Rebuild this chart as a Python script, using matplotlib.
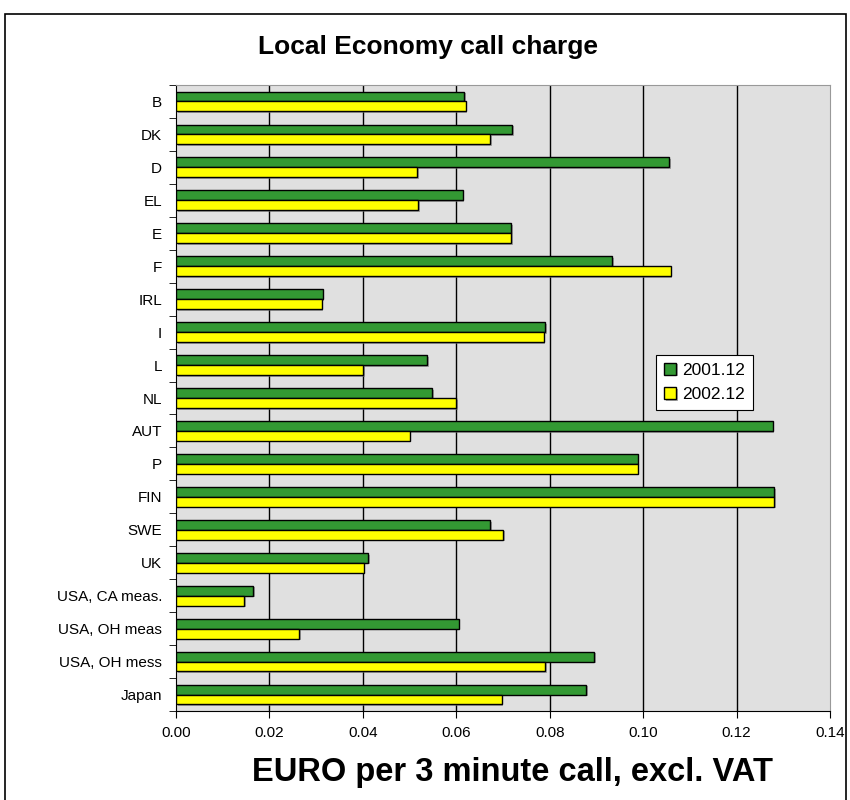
import numpy as np
import matplotlib
matplotlib.use("Agg")
import matplotlib.pyplot as plt
from matplotlib.patches import Rectangle
import matplotlib.patheffects as pe

plt.rcParams['font.family'] = ['Liberation Sans', 'DejaVu Sans']

# data
countries = ["B", "DK", "D", "EL", "E", "F", "IRL", "I", "L", "NL", "AUT", "P",
             "FIN", "SWE", "UK", "USA, CA meas.", "USA, OH meas", "USA, OH mess", "Japan"]
charge_2001 = [0.0617, 0.0720, 0.1055, 0.0614, 0.0717, 0.0934, 0.0314, 0.0790, 0.0537, 0.0549,
               0.1277, 0.0988, 0.1280, 0.0673, 0.0411, 0.0165, 0.0605, 0.0895, 0.0878]
charge_2002 = [0.0620, 0.0673, 0.0516, 0.0519, 0.0717, 0.1059, 0.0312, 0.0787, 0.0401, 0.0600,
               0.0500, 0.0988, 0.1280, 0.0700, 0.0402, 0.0146, 0.0263, 0.0790, 0.0697]
series_labels = ["2001.12", "2002.12"]
x_ticks = [0.00, 0.02, 0.04, 0.06, 0.08, 0.10, 0.12, 0.14]

green = "#339933"
yellow = "#FFFF00"

fig = plt.figure(figsize=(8.5, 8), dpi=100)
ax = fig.add_axes([176 / 850, 89 / 800, 654 / 850, 626 / 800])
ax.set_facecolor("#E0E0E0")

# outer frame of the chart
fig.patches.append(Rectangle((5 / 850, -0.01), 841 / 850, 0.9925, transform=fig.transFigure,
                             fill=False, edgecolor="black", linewidth=1.2))

y = np.arange(len(countries))
h = 0.3
shadow = [pe.SimplePatchShadow(offset=(1.2, -1.2), shadow_rgbFace="#777777", alpha=0.6), pe.Normal()]
b1 = ax.barh(y - h / 2, charge_2001, height=h, color=green, edgecolor="black",
             linewidth=1, label=series_labels[0], zorder=3)
b2 = ax.barh(y + h / 2, charge_2002, height=h, color=yellow, edgecolor="black",
             linewidth=1, label=series_labels[1], zorder=3)
for bar in list(b1) + list(b2):
    bar.set_path_effects(shadow)

ax.set_xlim(0, 0.14)
ax.set_ylim(len(countries) - 0.5, -0.5)
ax.set_xticks(x_ticks)
ax.set_xticklabels([f"{t:.2f}" for t in x_ticks], fontsize=11)
ax.set_yticks(y)
ax.set_yticklabels(countries, fontsize=11)
ax.set_yticks(np.arange(len(countries) + 1) - 0.5, minor=True)
ax.tick_params(axis="y", which="major", length=0, pad=10)
ax.tick_params(axis="y", which="minor", length=5, direction="out", color="black")
ax.tick_params(axis="x", length=5, direction="out", pad=6)

for t in x_ticks[1:-1]:
    ax.axvline(t, color="black", linewidth=1, zorder=1)

ax.spines["left"].set_color("black")
ax.spines["bottom"].set_color("black")
ax.spines["top"].set_color("#999999")
ax.spines["right"].set_color("#999999")

fig.text(428 / 850, 1 - 47 / 800, "Local Economy call charge", fontsize=19,
         fontweight="bold", ha="center", va="center")
fig.text(513 / 850, 1 - 773 / 800, "EURO per 3 minute call, excl. VAT", fontsize=23.5,
         fontweight="bold", ha="center", va="center")

leg = ax.legend(loc="upper left", bbox_to_anchor=(0.734, 0.569), borderaxespad=0,
                fancybox=False, edgecolor="black", framealpha=1, fontsize=12.5,
                handlelength=0.7, handleheight=0.7, handletextpad=0.35, labelspacing=0.55,
                borderpad=0.45)
leg.get_frame().set_linewidth(0.8)

fig.savefig("out.png", dpi=100)
